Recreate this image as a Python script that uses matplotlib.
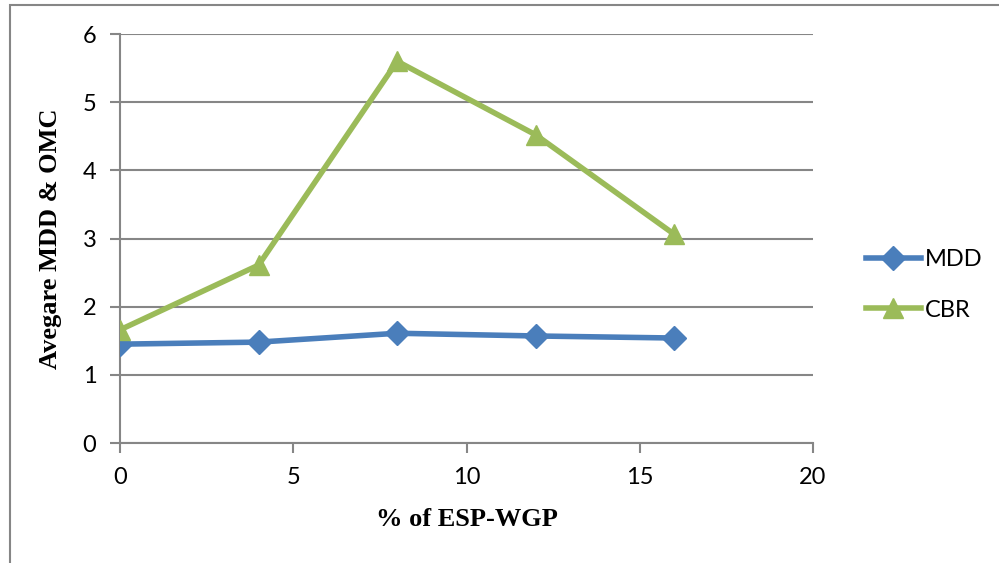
import matplotlib.pyplot as plt
from matplotlib.lines import Line2D

x = [0, 4, 8, 12, 16]
mdd = [1.45, 1.48, 1.61, 1.57, 1.54]
cbr = [1.66, 2.61, 5.60, 4.52, 3.06]

blue = '#4A7EBB'
green = '#9BBB59'
grid = '#868686'

fig = plt.figure(figsize=(9.99, 5.63), dpi=100)
ax = fig.add_axes([120/999, 1-443/563, (813-120)/999, (443-34)/563])

ax.plot(x, mdd, color=blue, lw=4, marker='D', ms=12, label='MDD', zorder=3)
ax.plot(x, cbr, color=green, lw=4, marker='^', ms=15, label='CBR', zorder=3)

ax.set_xlim(0, 20)
ax.set_ylim(0, 6)
ax.set_xticks([0, 5, 10, 15, 20])
ax.set_yticks(range(7))
ax.grid(axis='y', color=grid, lw=1.5)
ax.set_axisbelow(True)
for s in ['top', 'right']:
    ax.spines[s].set_visible(False)
for s in ['left', 'bottom']:
    ax.spines[s].set_color(grid)
    ax.spines[s].set_linewidth(1.5)
ax.tick_params(colors=grid, width=1.5, length=7, labelcolor='black', labelsize=17, pad=10)
for lab in ax.get_xticklabels() + ax.get_yticklabels():
    lab.set_family('Lato')

ax.set_xlabel('% of ESP-WGP', family='Liberation Serif', fontweight='bold', fontsize=19, labelpad=15)
ax.set_ylabel('Avegare MDD & OMC', family='Liberation Serif', fontweight='bold', fontsize=19, labelpad=15)

leg = fig.legend(handles=[Line2D([], [], color=blue, lw=4, marker='D', ms=12),
                          Line2D([], [], color=green, lw=4, marker='^', ms=15)],
                 labels=['MDD', 'CBR'], loc='center left', bbox_to_anchor=(845/999, 1-285/563),
                 frameon=False, handlelength=2.3, handletextpad=0.2, labelspacing=1.25,
                 prop={'family': 'Lato', 'size': 17})

# outer frame of the chart area
fig.add_artist(plt.Rectangle((10/999, -0.1), 1.1, 1.1 - 5/563, transform=fig.transFigure,
                             fill=False, edgecolor=grid, lw=1.5))

fig.savefig('out.png')
